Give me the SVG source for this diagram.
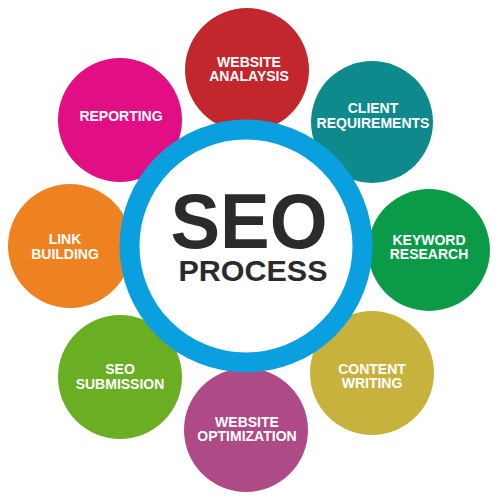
<svg xmlns="http://www.w3.org/2000/svg" width="500" height="500" viewBox="0 0 500 500">
<style>
.lbl{font-family:"Liberation Sans",Arial,sans-serif;font-weight:bold;font-size:14px;fill:#ffffff;text-anchor:middle}
.big{font-family:"Liberation Sans",Arial,sans-serif;font-weight:bold;fill:#2b2b2b;text-anchor:middle}
</style>
<rect width="500" height="500" fill="#ffffff"/>
<g id="website-analysis"><circle cx="247" cy="70" r="62" fill="#c1272d"/><text class="lbl" x="249" y="67">WEBSITE</text><text class="lbl" x="249" y="81">ANALAYSIS</text></g>
<g id="client-requirements"><circle cx="372" cy="122" r="61" fill="#0e8a8c"/><text class="lbl" x="373" y="113">CLIENT</text><text class="lbl" x="373" y="128">REQUIREMENTS</text></g>
<g id="keyword-research"><circle cx="429" cy="250" r="61" fill="#0b9a48"/><text class="lbl" x="429" y="245">KEYWORD</text><text class="lbl" x="429" y="259">RESEARCH</text></g>
<g id="content-writing"><circle cx="372" cy="373" r="62" fill="#c8b23e"/><text class="lbl" x="372" y="374">CONTENT</text><text class="lbl" x="372" y="388">WRITING</text></g>
<g id="website-optimization"><circle cx="246" cy="430" r="62" fill="#ae4a86"/><text class="lbl" x="247" y="427">WEBSITE</text><text class="lbl" x="247" y="441">OPTIMIZATION</text></g>
<g id="seo-submission"><circle cx="120" cy="377" r="62" fill="#69ae23"/><text class="lbl" x="120" y="374">SEO</text><text class="lbl" x="120" y="389">SUBMISSION</text></g>
<g id="link-building"><circle cx="70" cy="246" r="62" fill="#ee8220"/><text class="lbl" x="65" y="244">LINK</text><text class="lbl" x="65" y="259">BUILDING</text></g>
<g id="reporting"><circle cx="120" cy="120" r="62" fill="#e20e84"/><text class="lbl" x="121" y="121">REPORTING</text></g>
<g id="seo-process"><circle cx="246" cy="246" r="116.5" fill="#ffffff" stroke="#0aa0df" stroke-width="20"/>
<text class="big" x="249" y="248" font-size="78" textLength="157" lengthAdjust="spacingAndGlyphs">SEO</text>
<text class="big" x="253" y="281" font-size="30" textLength="149" lengthAdjust="spacingAndGlyphs">PROCESS</text></g>
<g id="connectors"/>
</svg>
